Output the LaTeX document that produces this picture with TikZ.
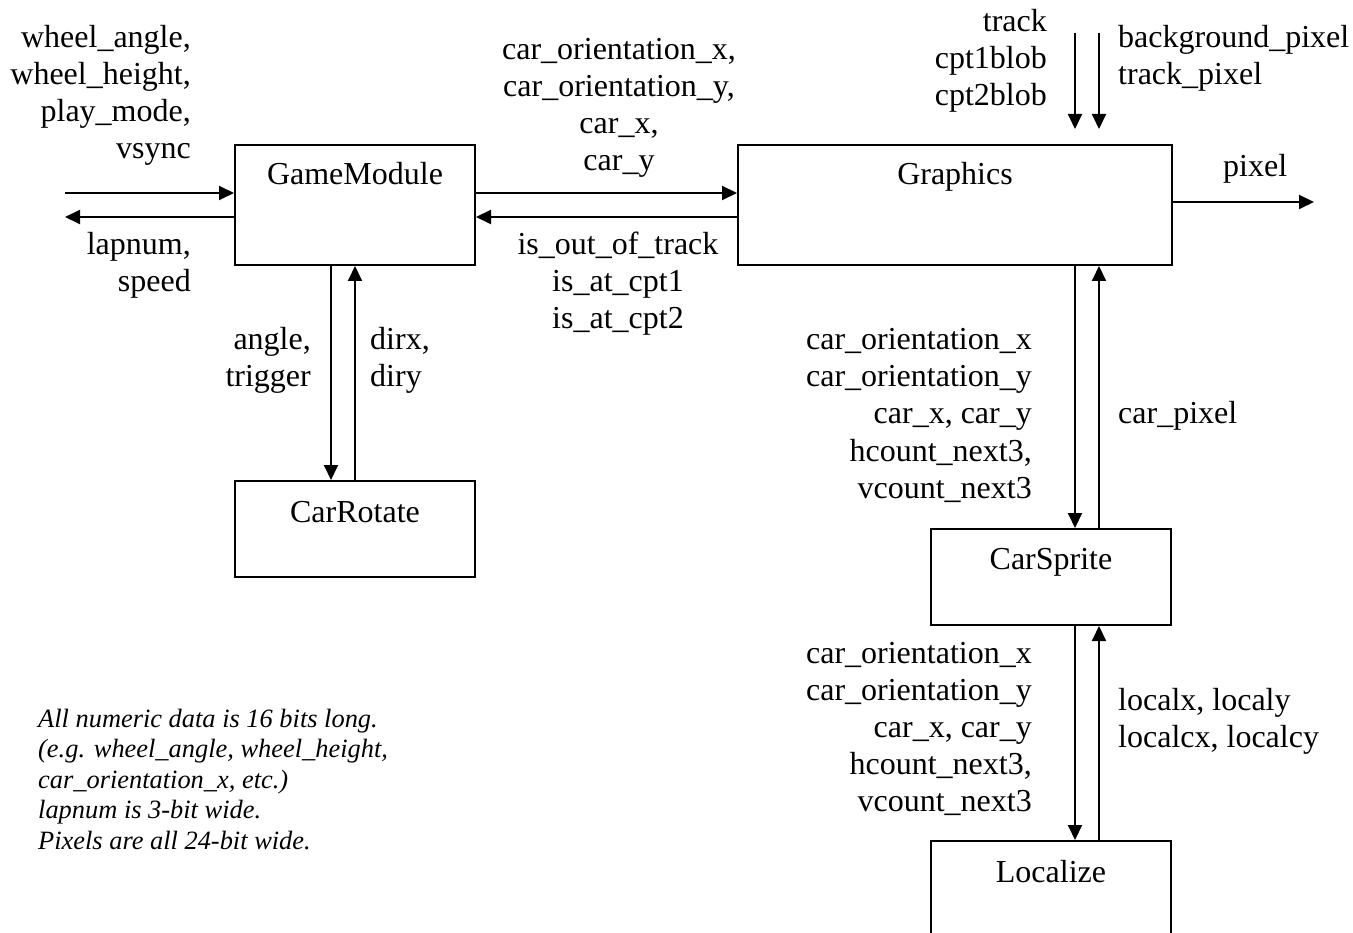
\documentclass[tikz,border=0pt]{standalone}
\usepackage{fontspec}
\setmainfont{Liberation Serif}
\usetikzlibrary{arrows.meta,calc}

\tikzset{
  block/.style={draw, line width=2pt, rectangle, inner sep=0pt},
  conn/.style={line width=2pt, -{Triangle[length=15pt,width=14pt]}},
  lbl/.style={inner sep=0pt, font=\fontsize{32}{37}\selectfont},
  note/.style={inner sep=0pt, font=\fontsize{26.4}{30.5}\selectfont\itshape},
}

% one text node per line: prefix, anchor, x, first baseline, line pitch, lines
\newcommand\txtlines[6]{%
  \foreach \t [count=\k from 0] in {#6} {%
    \node[lbl, anchor=#2] (#1\k) at (#3,{#4+#5*\k}) {\t};}}

\begin{document}
\begin{tikzpicture}[x=1pt, y=-1pt]
\clip (0,0) rectangle (1353,933);
\fill[white] (0,0) rectangle (1353,933);

% modules
\node[block, minimum width=240pt, minimum height=120pt] (gm) at (355,205) {};
\node[block, minimum width=434pt, minimum height=120pt] (gr) at (955,205) {};
\node[block, minimum width=240pt, minimum height=96pt]  (cr) at (355,529) {};
\node[block, minimum width=240pt, minimum height=96pt]  (cs) at (1051,577) {};
\node[block, minimum width=240pt, minimum height=140pt] (lo) at (1051,911) {};

\node[lbl, anchor=base] (gmT) at (355,185) {GameModule};
\node[lbl, anchor=base] (grT) at (955,185) {Graphics};
\node[lbl, anchor=base] (crT) at (355,522) {CarRotate};
\node[lbl, anchor=base] (csT) at (1051,569) {CarSprite};
\node[lbl, anchor=base] (loT) at (1051,882) {Localize};

% free ends of the external connectors
\coordinate (extIn)  at (65,193);
\coordinate (extOut) at (65,217);
\coordinate (pixOut) at (1314,202);
\coordinate (trkIn)  at (1075,33);
\coordinate (bgIn)   at (1099,33);

% connectors
\draw[conn] (extIn) -- ([yshift=12pt]gm.west);
\draw[conn] ([yshift=-12pt]gm.west) -- (extOut);
\draw[conn] ([yshift=12pt]gm.east) -- ([yshift=12pt]gr.west);
\draw[conn] ([yshift=-12pt]gr.west) -- ([yshift=-12pt]gm.east);
\draw[conn] ([xshift=-24pt]gm.south) -- ([xshift=-24pt]cr.north);
\draw[conn] (cr.north) -- (gm.south);
\draw[conn] (trkIn) -- ([yshift=15pt]trkIn |- gr.north);
\draw[conn] (bgIn) -- ([yshift=15pt]bgIn |- gr.north);
\draw[conn] ([yshift=3pt]gr.east) -- (pixOut);
\draw[conn] ([xshift=120pt]gr.south) -- ([xshift=24pt]cs.north);
\draw[conn] ([xshift=48pt]cs.north) -- ([xshift=144pt]gr.south);
\draw[conn] ([xshift=24pt]cs.south) -- ([xshift=24pt]lo.north);
\draw[conn] ([xshift=48pt]lo.north) -- ([xshift=48pt]cs.south);

% signal labels
\txtlines{inL}{base east}{191}{48}{37}{{wheel\_angle,},{wheel\_height,},{play\_mode,},vsync}
\txtlines{outL}{base east}{191}{255}{37}{{lapnum,},speed}
\txtlines{toGr}{base}{619}{60}{37}{{car\_orientation\_x,},{car\_orientation\_y,},{car\_x,},car\_y}
\txtlines{toGm}{base}{618}{255}{37}{is\_out\_of\_track,is\_at\_cpt1,is\_at\_cpt2}
\txtlines{toCr}{base east}{311}{350}{37}{{angle,},trigger}
\txtlines{fromCr}{base west}{370}{350}{37}{{dirx,},diry}
\txtlines{trkL}{base east}{1047}{32}{37}{track,cpt1blob,cpt2blob}
\txtlines{bgL}{base west}{1118}{48}{37}{background\_pixel,track\_pixel}
\node[lbl, anchor=base west] (pixL) at (1223,177) {pixel};
\txtlines{toCs}{base east}{1032}{350}{37}{car\_orientation\_x,car\_orientation\_y,{car\_x, car\_y},{hcount\_next3,},vcount\_next3}
\node[lbl, anchor=base west] (cpL) at (1118,424) {car\_pixel};
\txtlines{toLo}{base east}{1032}{663}{37}{car\_orientation\_x,car\_orientation\_y,{car\_x, car\_y},{hcount\_next3,},vcount\_next3}
\txtlines{fromLo}{base west}{1118}{710}{37}{{localx, localy},{localcx, localcy}}

% note on data widths
\foreach \t [count=\k from 0] in {{All numeric data is 16 bits long.},{(e.g. wheel\_angle, wheel\_height,},{car\_orientation\_x, etc.)},{lapnum is 3-bit wide.},{Pixels are all 24-bit wide.}} {%
  \node[note, anchor=base west] (noteL\k) at (38,{727+30.5*\k}) {\t};}
\end{tikzpicture}
\end{document}
